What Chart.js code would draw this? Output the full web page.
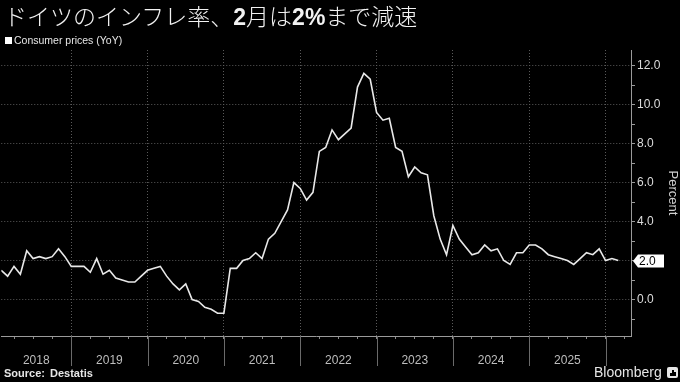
<!DOCTYPE html>
<html>
<head>
<meta charset="utf-8">
<script src="https://cdn.jsdelivr.net/npm/chart.js@4/dist/chart.umd.min.js"></script>
<style>
  html, body { margin: 0; padding: 0; background: #000; }
  #wrap { position: relative; width: 680px; height: 382px; overflow: hidden; background: #000; }
  #c { position: absolute; left: 0; top: 0; }
  #title { position: absolute; left: 4px; top: 0px; font-family: "Noto Sans CJK JP", sans-serif; font-size: 23px; line-height: 30px; color: #f2f2f2; font-weight: 300; white-space: nowrap; }
  #title b { font-family: "Liberation Sans", Arial, sans-serif; font-weight: 700; }
  #legend { position: absolute; left: 5px; top: 33px; font-family: "Liberation Sans", Arial, sans-serif; font-size: 10.5px; line-height: 14px; color: #e6e6e6; white-space: nowrap; }
  #legend .sw { display: inline-block; width: 7px; height: 7px; background: #fff; margin-right: 2px; vertical-align: 0px; }
  #source { position: absolute; left: 4px; top: 367px; font-family: "Liberation Sans", Arial, sans-serif; font-size: 11px; font-weight: 700; color: #e6e6e6; word-spacing: 2px; white-space: nowrap; }
  #brand { position: absolute; left: 594px; top: 364px; font-family: "Liberation Sans", Arial, sans-serif; font-size: 14px; color: #e6e6e6; white-space: nowrap; }
  #brand .logo { position: absolute; left: 73px; top: 3px; width: 11px; height: 11px; background: #e6e6e6; border-radius: 2px; }
  #brand .logo i { position: absolute; bottom: 2px; width: 1.5px; background: #000; }
</style>
</head>
<body>
<div id="wrap">
  <canvas id="c" width="680" height="382"></canvas>
  <div id="title">ドイツのインフレ率、<b>2</b>月は<b>2%</b>まで減速</div>
  <div id="legend"><span class="sw"></span>Consumer prices (YoY)</div>
  <div id="source">Source: Destatis</div>
  <div id="brand">Bloomberg<span class="logo"><i style="left:3px;height:3px"></i><i style="left:5px;height:6px"></i><i style="left:7px;height:4px"></i></span></div>
</div>
<script>
// ---- Data ----
const months = [
  "2018-01","2018-02","2018-03","2018-04","2018-05","2018-06","2018-07","2018-08","2018-09","2018-10","2018-11","2018-12",
  "2019-01","2019-02","2019-03","2019-04","2019-05","2019-06","2019-07","2019-08","2019-09","2019-10","2019-11","2019-12",
  "2020-01","2020-02","2020-03","2020-04","2020-05","2020-06","2020-07","2020-08","2020-09","2020-10","2020-11","2020-12",
  "2021-01","2021-02","2021-03","2021-04","2021-05","2021-06","2021-07","2021-08","2021-09","2021-10","2021-11","2021-12",
  "2022-01","2022-02","2022-03","2022-04","2022-05","2022-06","2022-07","2022-08","2022-09","2022-10","2022-11","2022-12",
  "2023-01","2023-02","2023-03","2023-04","2023-05","2023-06","2023-07","2023-08","2023-09","2023-10","2023-11","2023-12",
  "2024-01","2024-02","2024-03","2024-04","2024-05","2024-06","2024-07","2024-08","2024-09","2024-10","2024-11","2024-12",
  "2025-01","2025-02","2025-03","2025-04","2025-05","2025-06","2025-07","2025-08","2025-09","2025-10","2025-11","2025-12",
  "2026-01","2026-02"
];
const consumerPrices = [
  1.5, 1.2, 1.7, 1.3, 2.5, 2.1, 2.2, 2.1, 2.2, 2.6, 2.2, 1.7,
  1.7, 1.7, 1.4, 2.1, 1.3, 1.5, 1.1, 1.0, 0.9, 0.9, 1.2, 1.5,
  1.6, 1.7, 1.2, 0.8, 0.5, 0.8, 0.0, -0.1, -0.4, -0.5, -0.7, -0.7,
  1.6, 1.6, 2.0, 2.1, 2.4, 2.1, 3.1, 3.4, 4.0, 4.6, 6.0, 5.7,
  5.1, 5.5, 7.6, 7.8, 8.7, 8.2, 8.5, 8.8, 10.9, 11.6, 11.3, 9.6,
  9.2, 9.3, 7.8, 7.6, 6.3, 6.8, 6.5, 6.4, 4.3, 3.1, 2.3, 3.8,
  3.1, 2.7, 2.3, 2.4, 2.8, 2.5, 2.6, 2.0, 1.8, 2.4, 2.4, 2.8,
  2.8, 2.6, 2.3, 2.2, 2.1, 2.0, 1.8, 2.1, 2.4, 2.3, 2.6, 2.0,
  2.1, 2.0
];
const yearLabels = ["2018","2019","2020","2021","2022","2023","2024","2025"];
const yTickValues = [-1,0,1,2,3,4,5,6,7,8,9,10,11,12];

// month index: 0 = end of Jan 2018 (values are plotted at month end)
function monthIndex(s) {
  const [y, m] = s.split("-").map(Number);
  return (y - 2018) * 12 + (m - 1);
}
const points = months.map((m, i) => ({ x: monthIndex(m), y: consumerPrices[i] }));

// Year boundaries sit at the end of each December; label positions at mid-year
const yearBoundaries = [];
for (let v = 11; v <= 95; v += 12) yearBoundaries.push(v);
const labelPos = {};
yearLabels.forEach((lab, i) => { labelPos[i === 0 ? 5.5 : 5 + 12 * i] = lab; });

const FONT = "'Liberation Sans', Arial, sans-serif";

const extrasPlugin = {
  id: "extras",
  afterDraw(chart) {
    const ctx = chart.ctx;
    const xs = chart.scales.x, ys = chart.scales.y;
    const area = chart.chartArea;
    ctx.save();
    // year separator lines below the x axis
    ctx.strokeStyle = "#6a6a6a";
    ctx.lineWidth = 1;
    yearBoundaries.forEach(v => {
      const px = Math.round(xs.getPixelForValue(v)) + 0.5;
      ctx.beginPath();
      ctx.moveTo(px, area.bottom);
      ctx.lineTo(px, 366);
      ctx.stroke();
    });
    // last value tag
    const last = consumerPrices[consumerPrices.length - 1];
    const py = Math.round(ys.getPixelForValue(last));
    const x0 = area.right + 2;
    ctx.fillStyle = "#ffffff";
    ctx.beginPath();
    ctx.moveTo(x0, py);
    ctx.lineTo(x0 + 5, py - 6.5);
    ctx.lineTo(x0 + 31, py - 6.5);
    ctx.lineTo(x0 + 31, py + 6.5);
    ctx.lineTo(x0 + 5, py + 6.5);
    ctx.closePath();
    ctx.fill();
    ctx.fillStyle = "#000";
    ctx.font = "12px " + FONT;
    ctx.textBaseline = "middle";
    ctx.textAlign = "left";
    ctx.fillText(last.toFixed(1), x0 + 6, py + 0.5);
    ctx.restore();
  }
};

new Chart(document.getElementById("c"), {
  type: "line",
  data: {
    datasets: [{
      label: "Consumer prices (YoY)",
      data: points,
      borderColor: "#e8e8e8",
      borderWidth: 1.6,
      pointRadius: 0,
      tension: 0,
      fill: false
    }]
  },
  options: {
    responsive: false,
    animation: false,
    devicePixelRatio: 1,
    parsing: true,
    layout: { padding: { top: 50, left: 0, right: 0, bottom: 0 }, autoPadding: false },
    plugins: { legend: { display: false }, tooltip: { enabled: false }, title: { display: false } },
    scales: {
      x: {
        type: "linear",
        position: "bottom",
        min: 0,
        max: 99,
        afterBuildTicks(scale) {
          const t = [];
          for (let v = 2; v <= 98; v += 3) t.push({ value: v });
          t.push({ value: 5.5 });
          t.sort((a, b) => a.value - b.value);
          scale.ticks = t;
        },
        afterFit(scale) { scale.height = 46; },
        ticks: {
          autoSkip: false,
          maxRotation: 0,
          minRotation: 0,
          padding: 14,
          color: "#bdbdbd",
          font: { family: FONT, size: 12 },
          callback: (v) => labelPos[v] || ""
        },
        grid: {
          display: true,
          drawOnChartArea: true,
          drawTicks: true,
          tickLength: 3,
          color: (c) => (c.tick && yearBoundaries.includes(c.tick.value)) ? "#5a5a5a" : "rgba(0,0,0,0)",
          tickColor: (c) => (c.tick && c.tick.value === 5.5) ? "rgba(0,0,0,0)" : "#8a8a8a",
          lineWidth: 1
        },
        border: { display: true, color: "#9a9a9a", width: 1, dash: [1, 2] }
      },
      y: {
        type: "linear",
        position: "right",
        min: -1.87,
        max: 12.8,
        afterBuildTicks(scale) { scale.ticks = yTickValues.map(v => ({ value: v })); },
        afterFit(scale) { scale.width = 49; },
        ticks: {
          autoSkip: false,
          padding: 2,
          color: "#dcdcdc",
          font: { family: FONT, size: 12 },
          callback: (v) => (v % 2 === 0 ? v.toFixed(1) : "")
        },
        grid: {
          display: true,
          drawOnChartArea: true,
          drawTicks: true,
          tickLength: 4,
          color: (c) => (c.tick && c.tick.value % 2 === 0) ? "#5a5a5a" : "rgba(0,0,0,0)",
          tickColor: "#9a9a9a",
          lineWidth: 1
        },
        border: { display: true, color: "#9a9a9a", width: 1, dash: [1, 2] },
        title: {
          display: true,
          text: "Percent",
          color: "#d0d0d0",
          font: { family: FONT, size: 13 },
          padding: { top: 0, bottom: 2 }
        }
      }
    }
  },
  plugins: [extrasPlugin]
});
</script>
</body>
</html>
